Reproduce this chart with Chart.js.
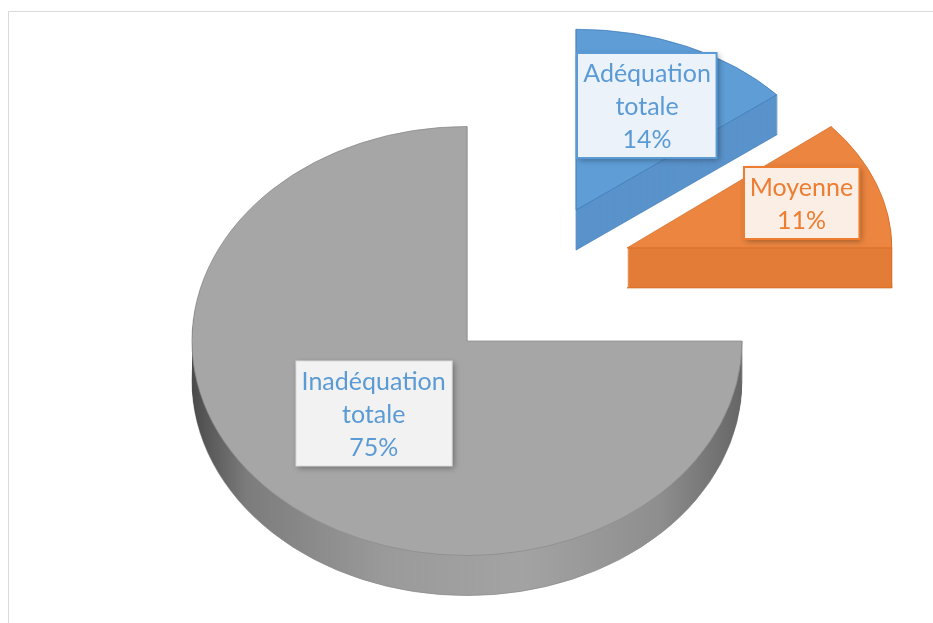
<!DOCTYPE html>
<html>
<head>
<meta charset="utf-8">
<script src="https://cdn.jsdelivr.net/npm/chart.js@4.4.0/dist/chart.umd.min.js"></script>
<style>
  html, body { margin: 0; padding: 0; background: #fff; }
  #frame { position: absolute; left: 8px; top: 11px; width: 1000px; height: 700px; border: 1px solid #d9d9d9; }
  #wrap { position: absolute; left: 0; top: 0; width: 933px; height: 623px; }
</style>
</head>
<body>
<div id="frame"></div>
<div id="wrap"><canvas id="pie" width="933" height="623"></canvas></div>
<script>
// données
const categories = [["Adéquation", "totale"], ["Moyenne"], ["Inadéquation", "totale"]];
const values = [14, 11, 75];

// couleurs
const topColors = ["#5e9dd6", "#eb8540", "#a6a6a6"];
const edgeColors = ["#3f78b5", "#d4681f", "#8c8c8c"];
const sideColors = ["#5a93cb", "#e37c36", null];
const boxFill = ["#ebf2fa", "#fbeee5", "#f2f2f2"];
const boxBorder = ["#5b9bd5", "#ed7d31", "#dcdcdc"];
const boxText = ["#5b9bd5", "#ed7d31", "#5b9bd5"];

// Camembert 3D : chaque part est dessinée par l'ArcElement de Chart.js,
// écrasée verticalement et extrudée vers le bas
const pie3d = {
  id: "pie3d",
  beforeDatasetsDraw(chart, args, o) {
    const ctx = chart.ctx;
    const dpr = chart.currentDevicePixelRatio || 1;
    const meta = chart.getDatasetMeta(0);
    const placed = [];
    meta.data.forEach(function (arc, i) {
      const a = o.explodeAngle[i] * Math.PI / 180;
      const sx = o.cx + o.explode[i] * o.radius * Math.sin(a);
      const sy = o.cy - o.explode[i] * o.radius * o.tilt * Math.cos(a);
      const px = 1 + (sy - o.cy) * o.persX;
      const py = 1 + (sy - o.cy) * o.persY;
      placed.push({
        arc: arc, i: i, sx: sx, sy: sy,
        sa: o.radius / arc.outerRadius * px,
        sd: o.radius * o.tilt / arc.outerRadius * py
      });
    });
    chart.$pie3d = placed;

    placed.forEach(function (p) {
      const arc = p.arc;
      const base = arc.options;
      const setT = function (dy) {
        ctx.setTransform(dpr * p.sa, 0, 0, dpr * p.sd,
          dpr * (p.sx - arc.x * p.sa), dpr * (p.sy - arc.y * p.sd + dy));
      };
      ctx.save();
      // flanc
      let side = sideColors[p.i];
      if (!side) {
        side = ctx.createLinearGradient(arc.x - arc.outerRadius, 0, arc.x + arc.outerRadius, 0);
        side.addColorStop(0, "#4a4a4a");
        side.addColorStop(0.1, "#7c7c7c");
        side.addColorStop(0.35, "#9a9a9a");
        side.addColorStop(0.6, "#a3a3a3");
        side.addColorStop(0.85, "#8e8e8e");
        side.addColorStop(1, "#666666");
      }
      for (let d = o.depth; d >= 1; d--) {
        setT(d);
        arc.options = Object.assign({}, base, {
          backgroundColor: side,
          borderColor: edgeColors[p.i],
          borderWidth: d === o.depth ? 1 : 0
        });
        arc.draw(ctx);
      }
      arc.options = base;
      // arêtes verticales
      ctx.setTransform(dpr, 0, 0, dpr, 0, 0);
      ctx.strokeStyle = edgeColors[p.i];
      ctx.lineWidth = 0.8;
      [arc.startAngle, arc.endAngle].forEach(function (ang) {
        const X = p.sx + arc.outerRadius * Math.cos(ang) * p.sa;
        const Y = p.sy + arc.outerRadius * Math.sin(ang) * p.sd;
        ctx.beginPath();
        ctx.moveTo(X, Y);
        ctx.lineTo(X, Y + o.depth);
        ctx.stroke();
      });
      // dessus
      setT(0);
      arc.draw(ctx);
      ctx.restore();
    });
    return false;
  },
  afterDraw(chart, args, o) {
    const ctx = chart.ctx;
    const total = values.reduce(function (s, v) { return s + v; }, 0);
    (chart.$pie3d || []).forEach(function (p) {
      const arc = p.arc;
      const mid = (arc.startAngle + arc.endAngle) / 2;
      const f = o.labelAt[p.i];
      const lx = p.sx + f * arc.outerRadius * Math.cos(mid) * p.sa;
      const ly = p.sy + f * arc.outerRadius * Math.sin(mid) * p.sd;
      const lines = chart.data.labels[p.i].concat([Math.round(values[p.i] / total * 100) + "%"]);
      ctx.save();
      ctx.font = o.font;
      const w = Math.max.apply(null, lines.map(function (t) { return ctx.measureText(t).width; })) + 2 * o.labelPad;
      const h = lines.length * o.lineHeight + 6;
      const bx = Math.round(lx - w / 2), by = Math.round(ly - h / 2);
      ctx.shadowColor = "rgba(0,0,0,0.35)";
      ctx.shadowBlur = 6;
      ctx.shadowOffsetX = 2;
      ctx.shadowOffsetY = 2;
      ctx.fillStyle = boxFill[p.i];
      ctx.fillRect(bx, by, w, h);
      ctx.shadowColor = "transparent";
      ctx.strokeStyle = boxBorder[p.i];
      ctx.lineWidth = p.i === 2 ? 1 : 2;
      ctx.strokeRect(bx, by, w, h);
      ctx.fillStyle = boxText[p.i];
      ctx.textAlign = "center";
      ctx.textBaseline = "middle";
      lines.forEach(function (t, k) {
        ctx.fillText(t, lx, by + 3 + o.lineHeight * (k + 0.5) + 1);
      });
      ctx.restore();
    });
  }
};

new Chart(document.getElementById("pie"), {
  type: "pie",
  data: {
    labels: categories,
    datasets: [{
      data: values,
      backgroundColor: topColors,
      borderColor: edgeColors,
      borderWidth: 1
    }]
  },
  options: {
    responsive: false,
    animation: false,
    events: [],
    layout: { padding: 0 },
    plugins: {
      legend: { display: false },
      tooltip: { enabled: false },
      pie3d: {
        cx: 467, cy: 341, radius: 275, tilt: 0.78, depth: 40,
        persX: 0.0004, persY: 0.0012,
        explode: [0.728, 0.726, 0],
        explodeAngle: [33, 53.3, 0],
        labelAt: [0.64, 0.7, 0.48],
        font: "25px Lato", lineHeight: 33, labelPad: 6
      }
    }
  },
  plugins: [pie3d]
});
</script>
</body>
</html>
